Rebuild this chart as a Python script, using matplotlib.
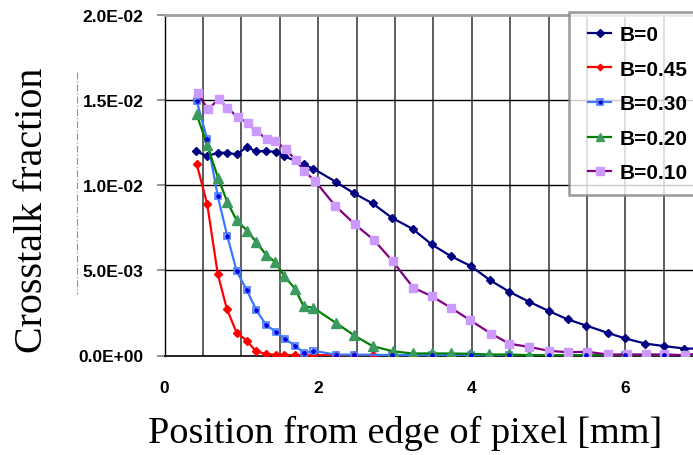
import numpy as np
import matplotlib
matplotlib.use('Agg')
import matplotlib.pyplot as plt
from matplotlib.legend_handler import HandlerTuple, HandlerLine2D
from matplotlib.lines import Line2D

# ---------------- data ----------------
x_b0 = [0.41, 0.557, 0.693, 0.81, 0.94, 1.07, 1.19, 1.32, 1.45, 1.56, 1.81, 1.94,
        2.23, 2.47, 2.71, 2.96, 3.23, 3.48, 3.73, 3.99, 4.24, 4.49, 4.75, 5.01,
        5.25, 5.49, 5.77, 6.0, 6.26, 6.51, 6.77, 7.0]
y_b0 = [0.0120, 0.01171, 0.01191, 0.01191, 0.01181, 0.01224, 0.0120, 0.0120, 0.01197,
        0.01171, 0.01122, 0.01097, 0.0102, 0.00952, 0.00893, 0.00809, 0.00744, 0.00652,
        0.00583, 0.00525, 0.00442, 0.00374, 0.00315, 0.0026, 0.00212, 0.00176, 0.00133,
        0.0010, 0.0007, 0.00055, 0.00041, 0.0004]

x_b45 = [0.42, 0.557, 0.693, 0.81, 0.94, 1.07, 1.19, 1.32, 1.45, 1.56, 1.70, 1.81,
         1.94, 2.23, 2.47, 2.71]
y_b45 = [0.01124, 0.00887, 0.0048, 0.00276, 0.00133, 0.00088, 0.00025, 0.0001,
         0.00004, 0.00003, 0.00003, 0.00002, 0.00002, 0.00002, 0.00002, 0.00002]

x_b30 = [0.42, 0.557, 0.693, 0.818, 0.94, 1.07, 1.195, 1.32, 1.45, 1.565, 1.70, 1.82,
         1.94, 2.23, 2.47, 2.96, 3.48, 3.99, 4.49, 5.01, 5.49, 6.0, 6.51, 7.0]
y_b30 = [0.01494, 0.01269, 0.00936, 0.00701, 0.00495, 0.00385, 0.00268, 0.0018,
         0.00139, 0.00099, 0.00058, 0.00014, 0.00028, 0.00005, 0.00005, 0.00003,
         0.00002, 0.00002, 0.00002, 0.00002, 0.00002, 0.00002, 0.00002, 0.00002]

x_b20 = [0.417, 0.557, 0.697, 0.818, 0.94, 1.074, 1.195, 1.32, 1.443, 1.56, 1.70, 1.81,
         1.94, 2.23, 2.47, 2.71, 2.97, 3.23, 3.48, 3.73, 3.98, 4.23, 4.49, 4.74, 5.0,
         5.25, 5.5, 5.77, 6.0, 6.26, 6.51, 6.77, 7.0]
y_b20 = [0.0142, 0.01234, 0.01044, 0.00901, 0.00793, 0.00734, 0.00666, 0.00593, 0.00549,
         0.00466, 0.00392, 0.0029, 0.0028, 0.00192, 0.00118, 0.00055, 0.00025, 0.00012,
         0.00012, 0.00012, 0.0001, 0.00006, 0.00006, 0.00002, 0.00002, 0.00002, 0.00002,
         0.00001, 0.00001, 0.00001, 0.00001, 0.00001, 0.00001]

x_b10 = [0.43, 0.566, 0.71, 0.818, 0.953, 1.083, 1.19, 1.33, 1.44, 1.58, 1.71, 1.82,
         1.96, 2.22, 2.48, 2.73, 2.97, 3.24, 3.48, 3.73, 3.98, 4.25, 4.49, 4.74, 5.0,
         5.25, 5.5, 5.77, 6.02, 6.27, 6.51, 6.78, 7.0]
y_b10 = [0.01539, 0.01447, 0.01506, 0.01453, 0.01401, 0.01365, 0.01318, 0.01273, 0.01259,
         0.01212, 0.01147, 0.01083, 0.01025, 0.00881, 0.0077, 0.00677, 0.00554, 0.00398,
         0.00348, 0.0028, 0.00207, 0.00129, 0.00069, 0.00051, 0.00028, 0.00019, 0.00022,
         0.00006, 0.00006, 0.00006, 0.00006, 0.00002, 0.00015]

labels = ['B=0', 'B=0.45', 'B=0.30', 'B=0.20', 'B=0.10']
y_ticks = [0.0, 0.005, 0.01, 0.015, 0.02]
y_tick_labels = ['0.0E+00', '5.0E-03', '1.0E-02', '1.5E-02', '2.0E-02']
x_ticks = [0, 2, 4, 6]
x_tick_labels = ['0', '2', '4', '6']

# ---------------- figure ----------------
W, H = 693, 456
fig = plt.figure(figsize=(W / 100, H / 100), dpi=100)
left, right_px, top_px, bot_px = 164.5, 164.5 + 7 * 76.8, 16, 356.5
aw, ah = right_px - left, bot_px - top_px
ax = fig.add_axes([left / W, 1 - bot_px / H, aw / W, ah / H])

ax.set_xlim(0, 7)
ax.set_ylim(0, 0.02)

# grid
for gx in np.arange(0.5, 7.0, 0.5):
    ax.axvline(gx, color='#505050', lw=1.3, zorder=1)
for gy in [0.005, 0.01, 0.015]:
    ax.axhline(gy, color='black', lw=1.0, zorder=1)

lw = 1.6
h0, = ax.plot(x_b0, y_b0, color='#000080', lw=lw, marker='D', ms=4.2,
              mfc='#000080', mec='#000080', zorder=3)
h45, = ax.plot(x_b45, y_b45, color='#ff0000', lw=lw, marker='D', ms=3.6,
               mfc='#ff0000', mec='#ff0000', zorder=3)
h30, = ax.plot(x_b30, y_b30, color='#3a78ff', lw=lw, marker='s', ms=5,
               mfc='none', mec='#4a7dff', mew=1.2, zorder=3)
h30b, = ax.plot(x_b30, y_b30, ls='none', marker='o', ms=2.4,
                mfc='#0000dd', mec='#0000dd', zorder=3.1)
h20, = ax.plot(x_b20, y_b20, color='#008000', lw=lw, marker='^', ms=6.5,
               mfc='#3c9a5f', mec='#3c9a5f', zorder=3)
h10, = ax.plot(x_b10, y_b10, color='#800080', lw=lw, marker='s', ms=6.2,
               mfc='#cc99ff', mec='#cc99ff', zorder=3)

# spines
ax.spines['right'].set_visible(False)
ax.spines['top'].set_color('#a0a0a0')
ax.spines['top'].set_linewidth(2)
ax.spines['left'].set_color('black')
ax.spines['left'].set_linewidth(1)
ax.spines['bottom'].set_color('black')
ax.spines['bottom'].set_linewidth(1.2)

tick_font = dict(family='Liberation Sans', weight='bold', size=12.5)
ax.set_yticks(y_ticks)
ax.set_yticklabels(y_tick_labels, fontdict=tick_font)
ax.set_xticks(x_ticks)
ax.set_xticklabels(x_tick_labels, fontdict=tick_font)
ax.tick_params(axis='y', direction='out', length=6, width=1.2, color='#808080', pad=9)
ax.tick_params(axis='x', length=0, pad=18)

ax.set_xlabel('Position from edge of pixel [mm]', family='Liberation Serif', size=27.5)
ax.xaxis.set_label_coords((405 - left) / aw, -(416 - bot_px) / ah)
ax.set_ylabel('Crosstalk fraction', family='Liberation Serif', size=28.8)
ax.yaxis.set_label_coords((51 - left) / aw, (bot_px - 210) / ah)

# faint dashed artifact line between label and ticks
fig.add_artist(Line2D([77 / W, 77 / W], [1 - 73 / H, 1 - 295 / H], color='#909090',
                      lw=0.8, ls=(0, (6, 2, 1, 2))))

fs = 15
hl = HandlerLine2D(xpad=0.3)
leg = fig.legend([h0, h45, (h30, h30b), h20, h10], labels,
                 loc='upper left', bbox_to_anchor=(569 / W, 1 - 13 / H),
                 prop=dict(family='Liberation Sans', weight='bold', size=fs),
                 handler_map={tuple: HandlerTuple(ndivide=1, pad=0, xpad=0.3),
                              Line2D: hl},
                 frameon=True, fancybox=False, edgecolor='#808080',
                 handlelength=1.4, handletextpad=0.4, labelspacing=0.75,
                 borderpad=0.62, borderaxespad=0, markerscale=0.9)
leg.get_frame().set_linewidth(1.8)

fig.savefig('out.png', dpi=100)
